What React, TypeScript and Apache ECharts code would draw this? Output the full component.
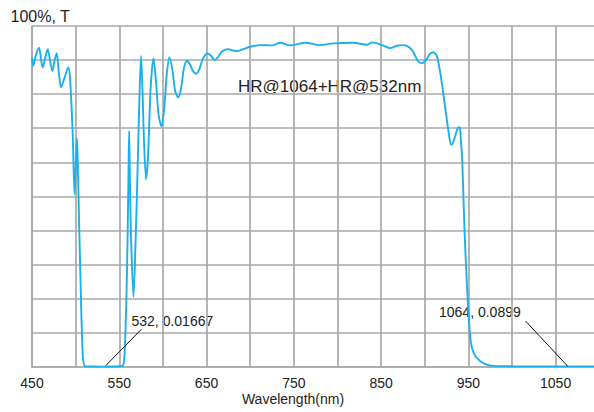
import React, { useEffect, useRef } from "react";
import * as echarts from "echarts";

const wavelengths = [
  450, 451.5, 454.5, 458, 460.5, 462.3, 465, 468, 471, 473.3, 476, 478.3, 480.5, 483.3, 487.5, 491.6,
  493.6, 496.7, 498.8, 500.3, 501.6, 502.6, 505, 508.2, 510.8, 520, 532, 545, 553.3, 555.5, 557.3,
  559, 560.5, 561.3, 562.2, 563.5, 566.3, 568.5, 571, 573, 575, 576.5, 578.5, 580.8, 583, 586, 589.2,
  592, 595, 598.3, 601.5, 604.5, 607.5, 611, 614, 617.5, 621, 624, 627.5, 631, 634, 638.1, 642, 646,
  651.1, 655, 659.4, 663, 668, 674.9, 680, 684.8, 692, 700.1, 711.6, 725, 734.5, 746, 763.2, 780.4,
  795.3, 818.3, 834, 839.7, 851.2, 860.7, 868, 876, 883.6, 887, 890.5, 893.5, 897.1, 900, 902.8, 906,
  909.7, 912.3, 914.3, 918, 921.8, 927.6, 930.3, 932.5, 935.3, 937.5, 939.9, 941.5, 943, 945.6, 948.7,
  952.5, 956.3, 964, 975.4, 1000, 1030, 1064, 1094,
];
const transmittance = [
  90.7, 88.3, 91.5, 93.6, 90, 87.8, 90.5, 93.2, 89.5, 86.8, 90, 92.0, 87, 82.0, 85, 87.9,
  84.7, 68.0, 50.6, 60, 67.0, 58, 31.4, 3.4, 0.2, 0.05, 0.01667, 0.05, 0.2, 1.7, 12,
  30, 55, 69.2, 55, 38, 20.5, 35, 58, 78, 91.2, 82, 65, 55.0, 62, 82, 90.5,
  84, 74, 70.6, 76, 86, 90.8, 87, 81, 79.0, 82, 87.5, 89.8, 88.8, 87, 86.0, 87.5, 90.5,
  92.0, 91.3, 90.0, 90.8, 92.6, 93.2, 92.8, 92.6, 93.2, 93.9, 94.4, 94.3, 95.1, 94.3, 95.1, 94.4,
  94.9, 95.1, 94.5, 95.2, 94.4, 93.5, 94.2, 94.4, 93.5, 92.3, 90.5, 89.4, 89.1, 89.6, 90.5, 91.8,
  92.3, 91.8, 91.0, 86, 79.2, 68.5, 65.1, 65.8, 68.0, 69.8, 70.4, 66.5, 60.7, 40.1, 22.5,
  7.8, 3.9, 1.5, 0.3, 0.12, 0.1, 0.0899, 0.1,
];

const xTickLabels = [450, 550, 650, 750, 850, 950, 1050];
const xMin = 450;
const xMax = 1094;
const xStep = 50;
const yMin = 0;
const yMax = 100;
const yStep = 10;

const titleText = "HR@1064+HR@532nm";
const yName = "100%, T";
const xName = "Wavelength(nm)";
const annotations = [
  { text: "532, 0.01667", from: [534.5, 0.3], to: [575.4, 11.0] },
  { text: "1064, 0.0899", from: [1015.6, 13.4], to: [1064, 0.09] },
];

const FONT = "'Liberation Sans', Arial, Helvetica, sans-serif";
const GRID_COLOR = "#a9a9ac";
const TEXT_COLOR = "#222";

export default function App() {
  const ref = useRef<HTMLDivElement>(null);
  useEffect(() => {
    if (!ref.current) return;
    const chart = echarts.init(ref.current, null, { renderer: "svg" });
    const data = wavelengths.map((w, i) => [w, transmittance[i]]);
    chart.setOption({
      animation: false,
      grid: { left: 32, right: 0, top: 26, bottom: 45.3, containLabel: false },
      xAxis: {
        type: "value",
        min: xMin,
        max: xMax,
        interval: xStep,
        axisLine: { show: true, lineStyle: { color: GRID_COLOR, width: 1.7 } },
        axisTick: { show: false },
        splitLine: { show: true, showMaxLine: false, lineStyle: { color: GRID_COLOR, width: 1.7 } },
        axisLabel: {
          color: TEXT_COLOR,
          fontSize: 14,
          fontFamily: FONT,
          margin: 9,
          showMaxLabel: false,
          formatter: (v: number) => (xTickLabels.indexOf(Math.round(v)) >= 0 ? String(Math.round(v)) : ""),
        },
      },
      yAxis: {
        type: "value",
        min: yMin,
        max: yMax,
        interval: yStep,
        axisLine: { show: true, lineStyle: { color: GRID_COLOR, width: 1.7 } },
        axisTick: { show: false },
        axisLabel: { show: false },
        splitLine: { show: true, lineStyle: { color: GRID_COLOR, width: 1.7 } },
      },
      series: [
        {
          type: "line",
          data,
          smooth: 0.3,
          showSymbol: false,
          symbol: "none",
          lineStyle: { color: "#1ab0ec", width: 1.9 },
          markLine: {
            silent: true,
            symbol: ["none", "none"],
            label: { show: false },
            lineStyle: { color: "#111", width: 1, type: "solid" },
            data: annotations.map((a) => [{ coord: a.from }, { coord: a.to }]),
          },
        },
      ],
      graphic: [
        { type: "text", x: 10.5, y: 16, style: { text: yName, fontSize: 16, fontFamily: FONT, fill: TEXT_COLOR, align: "left", verticalAlign: "middle" } },
        { type: "text", x: 238, y: 86.5, style: { text: titleText, fontSize: 17, fontFamily: FONT, fill: TEXT_COLOR, align: "left", verticalAlign: "middle" } },
        { type: "text", x: 131.5, y: 321, style: { text: annotations[0].text, fontSize: 14, fontFamily: FONT, fill: TEXT_COLOR, align: "left", verticalAlign: "middle" } },
        { type: "text", x: 439, y: 312, style: { text: annotations[1].text, fontSize: 14, fontFamily: FONT, fill: TEXT_COLOR, align: "left", verticalAlign: "middle" } },
        { type: "text", x: 293, y: 399, style: { text: xName, fontSize: 14, fontFamily: FONT, fill: TEXT_COLOR, align: "center", verticalAlign: "middle" } },
      ],
    });
    return () => chart.dispose();
  }, []);
  return (
    <div
      ref={ref}
      style={{ position: "fixed", left: 0, top: 0, width: 594, height: 412, background: "#fff" }}
    />
  );
}
